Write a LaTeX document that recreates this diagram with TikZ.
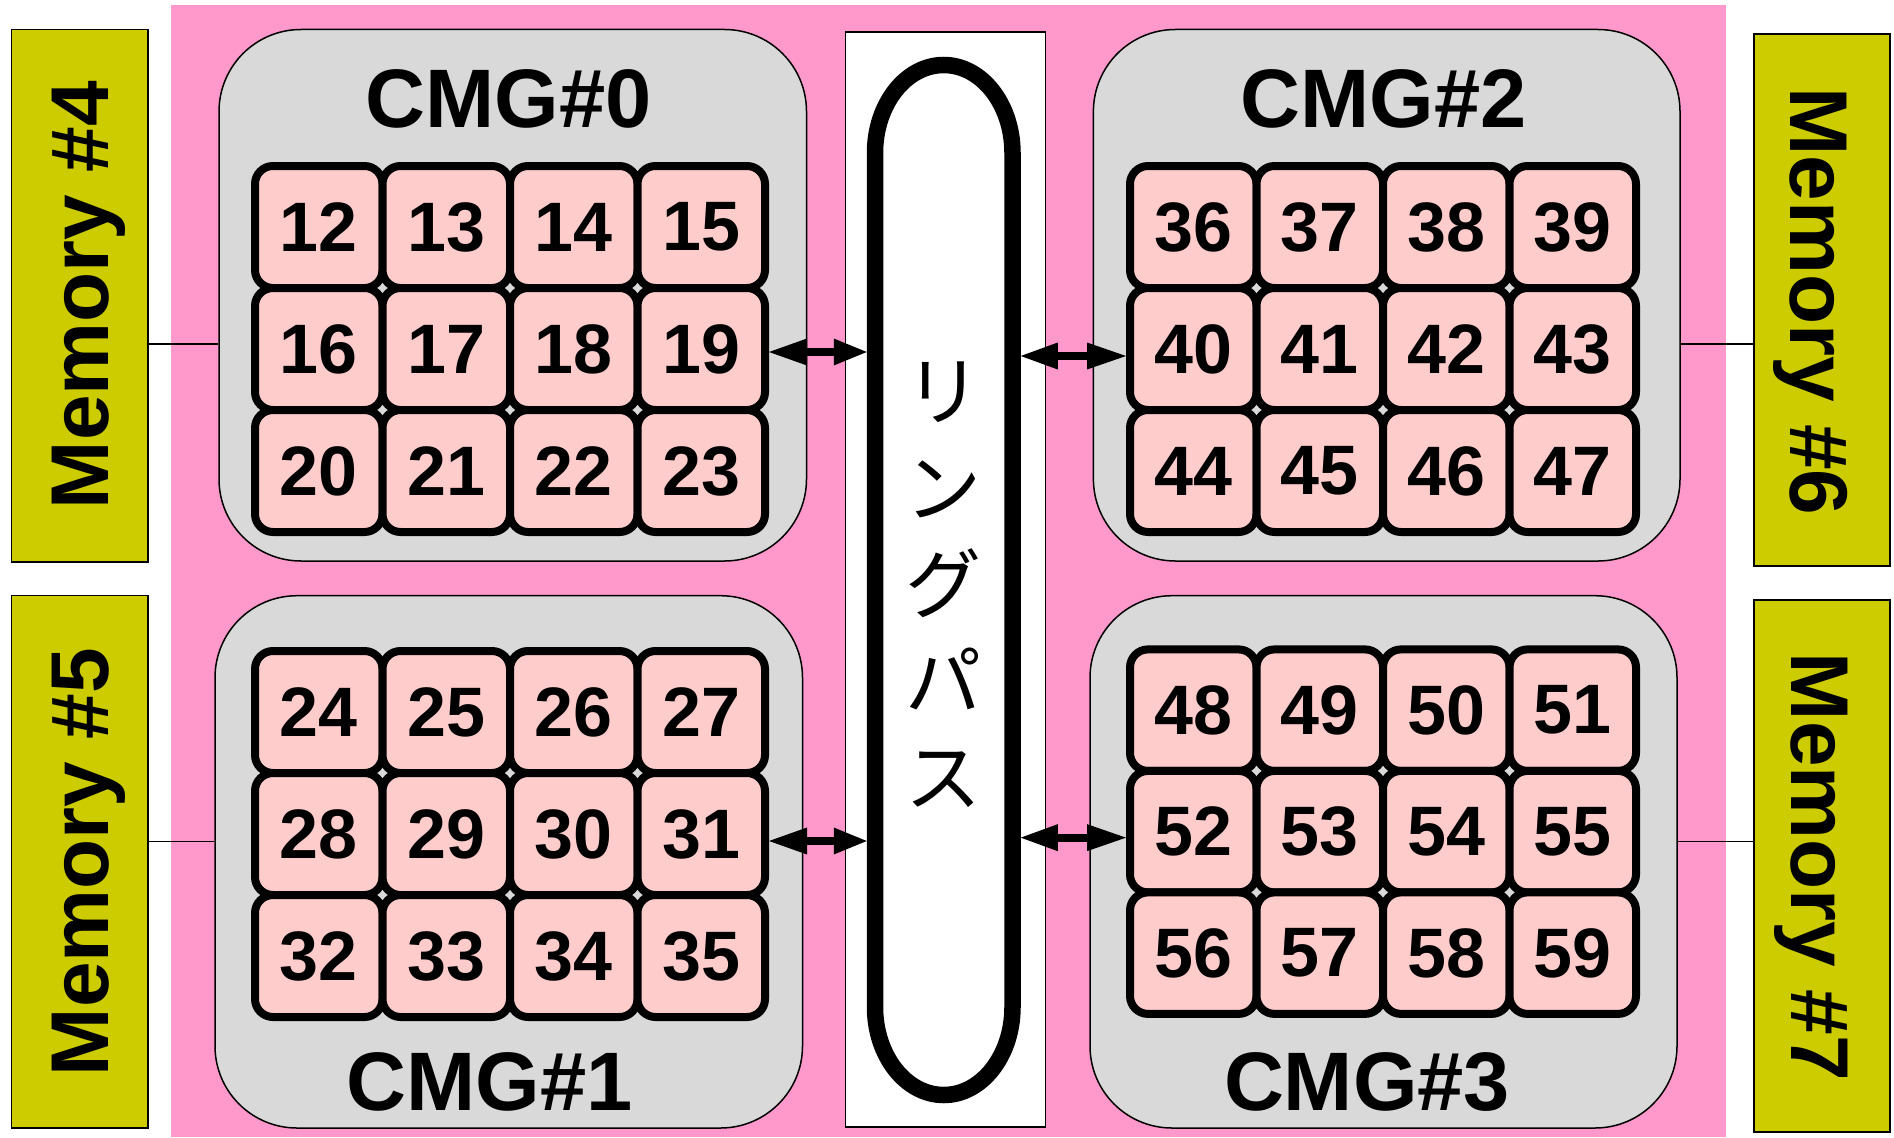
\documentclass[tikz,border=0pt]{standalone}
\usepackage{fontspec}
\setmainfont{Liberation Sans}
\newfontfamily\jpfont{Noto Sans CJK JP}
\usetikzlibrary{calc}
\definecolor{pinkbg}{RGB}{255,153,204}
\definecolor{cmggray}{RGB}{217,217,217}
\definecolor{cellpink}{RGB}{255,204,204}
\definecolor{memyellow}{RGB}{204,204,0}
\newcommand\cellgrid[5]{% x0 y0 px py start
  \foreach \r in {0,1,2}{
    \foreach \c in {0,1,2,3}{
      \pgfmathtruncatemacro\n{#5+4*\r+\c}
      \node[cellbox, minimum width=#3pt, minimum height=#4pt] (c\n)
        at ({#1+#3*(\c+0.5)},{#2+#4*(\r+0.5)}) {\n};
    }
  }
}
% double arrow between two named coordinates (left end, right end), head lengths
\newcommand\dblarr[4]{%
  \draw[line width=8pt, shorten <=20pt, shorten >=20pt] (#1) -- (#2);
  \fill (#1) -- ++(#3,-13.5) -- ++(0,27) -- cycle;
  \fill (#2) -- ++(-#4,-13.5) -- ++(0,27) -- cycle;
}
\begin{document}
\begin{tikzpicture}[x=1pt,y=-1pt,
  cellbox/.style={draw=black, line width=8pt, fill=cellpink, rounded corners=18pt,
    inner sep=0pt, font=\fontsize{70}{80}\selectfont\bfseries},
  cmgbox/.style={draw=black, line width=1.5pt, fill=cmggray, rounded corners=82pt, inner sep=0pt},
  cmgtitle/.style={font=\fontsize{83}{90}\selectfont\bfseries, inner sep=0pt},
  membox/.style={draw=black, line width=1.5pt, fill=memyellow, inner sep=0pt},
  memtext/.style={font=\fontsize{82}{90}\selectfont\bfseries, inner sep=0pt},
  conn/.style={draw=black, line width=1.5pt},
]
\useasboundingbox (0,0) rectangle (1894,1137);
% pink background
\node[fill=pinkbg, inner sep=0pt, minimum width=1555pt, minimum height=1132pt] (bg) at (948.5,571) {};
% ring path white box
\node[draw=black, line width=1.5pt, fill=white, inner sep=0pt, minimum width=200pt, minimum height=1095pt] (ringbox) at (945.5,579.4) {};
% CMG boxes
\node[cmgbox, minimum width=587.5pt, minimum height=531.5pt] (cmg0) at (512.75,295.25) {};
\node[cmgbox, minimum width=587.5pt, minimum height=532.3pt] (cmg1) at (508.75,861.85) {};
\node[cmgbox, minimum width=586.6pt, minimum height=531.5pt] (cmg2) at (1386.7,295.25) {};
\node[cmgbox, minimum width=587pt, minimum height=532.3pt] (cmg3) at (1383.5,861.85) {};
% titles
\node[cmgtitle, anchor=base] (t0) at (508.5,128) {CMG\#0};
\node[cmgtitle, anchor=base] (t1) at (489.5,1110) {CMG\#1};
\node[cmgtitle, anchor=base] (t2) at (1383.5,128) {CMG\#2};
\node[cmgtitle, anchor=base] (t3) at (1367,1110) {CMG\#3};
% cells
\cellgrid{255}{166}{127.5}{122}{12}
\cellgrid{255}{651}{127.5}{122}{24}
\cellgrid{1130}{166}{126.5}{122}{36}
\cellgrid{1130}{649.4}{126.5}{121.5}{48}
% ring
\node[inner sep=0pt, outer sep=0pt, minimum width=154pt, minimum height=1045pt] (ring) at (943.75,580) {};
\draw[line width=16.5pt] (875,153) -- (875,1007)
  arc[start angle=180, end angle=0, x radius=68.75, y radius=88]
  -- (1012.5,153)
  arc[start angle=0, end angle=-180, x radius=68.75, y radius=88] -- cycle;
\node[font=\jpfont\fontsize{76}{96.5}\selectfont, align=center, inner sep=0pt] (ringlabel) at (943,585) {リ\\ン\\グ\\パ\\ス};
% arrows
\coordinate (a1) at ($(c19.east)+(0,3)$);
\coordinate (b1) at ($(ring.west |- c19.east)+(0,3)$);
\coordinate (a2) at ($(ring.east |- c40.west)+(0,7)$);
\coordinate (b2) at ($(c40.west)+(0,7)$);
\coordinate (a3) at ($(c31.east)+(0,7)$);
\coordinate (b3) at ($(ring.west |- c31.east)+(0,7)$);
\coordinate (a4) at ($(ring.east |- c52.west)+(0,6)$);
\coordinate (b4) at ($(c52.west)+(0,6)$);
\dblarr{a1}{b1}{38}{33}
\dblarr{a2}{b2}{37}{39}
\dblarr{a3}{b3}{38}{33}
\dblarr{a4}{b4}{37}{39}
% memory boxes
\node[membox, minimum width=136.5pt, minimum height=532.5pt] (mem4) at (79.75,295.75) {};
\node[membox, minimum width=136.5pt, minimum height=532.3pt] (mem5) at (79.75,861.85) {};
\node[membox, minimum width=136pt, minimum height=532pt] (mem6) at (1822,300) {};
\node[membox, minimum width=136pt, minimum height=532pt] (mem7) at (1822,866) {};
\node[memtext, rotate=90] (mt4) at (89,295) {Memory \#4};
\node[memtext, rotate=90] (mt5) at (89,862) {Memory \#5};
\node[memtext, rotate=-90] (mt6) at (1811,301.5) {Memory \#6};
\node[memtext, rotate=-90] (mt7) at (1811,867) {Memory \#7};
% connectors
\coordinate (y4) at (0,344);
\coordinate (y5) at (0,841.5);
\coordinate (y6) at (0,344);
\coordinate (y7) at (0,841.5);
\draw[conn] (mem4.east |- y4) -- (cmg0.west |- y4);
\draw[conn] (mem5.east |- y5) -- (cmg1.west |- y5);
\draw[conn] (cmg2.east |- y6) -- (mem6.west |- y6);
\draw[conn] (cmg3.east |- y7) -- (mem7.west |- y7);
\end{tikzpicture}
\end{document}
